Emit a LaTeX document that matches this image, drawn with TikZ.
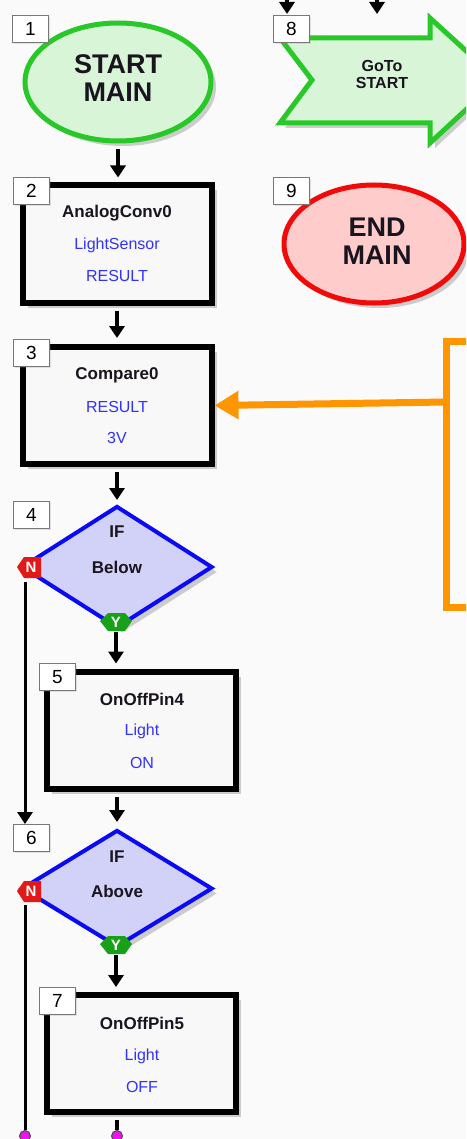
\documentclass[tikz,border=0pt]{standalone}
\usepackage{fontspec}
\setmainfont{Liberation Sans}
\usetikzlibrary{shapes.geometric,arrows.meta,shadows,calc}

\definecolor{bgcol}{RGB}{250,250,250}
\definecolor{boxfill}{RGB}{248,248,248}
\definecolor{termgreen}{RGB}{40,200,40}
\definecolor{termgreenfill}{RGB}{216,245,216}
\definecolor{termred}{RGB}{240,10,10}
\definecolor{termredfill}{RGB}{255,204,204}
\definecolor{decblue}{RGB}{10,10,245}
\definecolor{decfill}{RGB}{210,210,248}
\definecolor{valblue}{RGB}{50,50,250}
\definecolor{titlecol}{RGB}{25,20,30}
\definecolor{labgray}{RGB}{120,120,120}
\definecolor{nored}{RGB}{225,25,25}
\definecolor{yesgreen}{RGB}{25,160,25}
\definecolor{pinmag}{RGB}{235,20,235}
\definecolor{noteorange}{RGB}{255,150,0}

\begin{document}
\begin{tikzpicture}[x=1pt,y=-1pt,
  softshadow/.style={drop shadow={shadow xshift=5pt,shadow yshift=-5pt,fill=black,opacity=0.18}},
  terminal/.style={ellipse,line width=5pt,minimum width=186pt,minimum height=118pt,inner sep=0pt,softshadow},
  procbox/.style={rectangle,draw=black,line width=6pt,fill=boxfill,minimum width=189pt,minimum height=117pt,inner sep=0pt,softshadow},
  decision/.style={diamond,draw=decblue,line width=4pt,fill=decfill,inner sep=0pt,minimum width=191pt,softshadow},
  numlabel/.style={rectangle,draw=labgray,line width=1pt,fill=white,minimum width=36pt,minimum height=27pt,inner sep=0pt,anchor=north west,font=\fontsize{19}{19}\selectfont,drop shadow={shadow xshift=1.5pt,shadow yshift=-1.5pt,opacity=0.2}},
  bigtext/.style={align=center,font=\fontsize{27}{28}\selectfont\bfseries,text=titlecol},
  title/.style={font=\fontsize{17}{20}\selectfont\bfseries,text=titlecol},
  value/.style={font=\fontsize{16}{19}\selectfont,text=valblue},
  badgetext/.style={font=\fontsize{15}{15}\selectfont\bfseries,text=white,inner sep=0pt},
  flow/.style={draw=black,line width=4pt,-{Triangle[width=15pt,length=12pt]}},
  wire/.style={draw=black,line width=3pt},
  pin/.style={circle,draw=black!70,line width=1pt,fill=pinmag,minimum size=11pt,inner sep=0pt},
  note/.style={draw=noteorange,line width=7pt}
]
\useasboundingbox (0,0) rectangle (466,1139);
\fill[bgcol] (0,0) rectangle (466,1139);
\clip (0,0) rectangle (466,1139);

% ---------- main column ----------
\node[terminal,draw=termgreen,fill=termgreenfill] (start) at (118,82) {};
\node[bigtext] (startt) at (118,78) {START\\MAIN};

\node[procbox] (b2) at (117,244) {};
\node[title] (b2a) at (117,213) {AnalogConv0};
\node[value] (b2b) at (117,245) {LightSensor};
\node[value] (b2c) at (117,276) {RESULT};

\node[procbox] (b3) at (117,405.5) {};
\node[title] (b3a) at (117,375) {Compare0};
\node[value] (b3b) at (117,407) {RESULT};
\node[value] (b3c) at (117,438) {3V};

\node[decision,minimum height=122pt] (d4) at (117,567) {};
\node[title] (d4a) at (117,532) {IF};
\node[title] (d4b) at (117,567) {Below};

\node[procbox] (b5) at (141.5,730) {};
\node[title] (b5a) at (142,699) {OnOffPin4};
\node[value] (b5b) at (142,731) {Light};
\node[value] (b5c) at (142,763) {ON};

\node[decision,minimum height=117pt] (d6) at (117,888.5) {};
\node[title] (d6a) at (117,857) {IF};
\node[title] (d6b) at (117,891) {Above};

\node[procbox] (b7) at (141.5,1053.5) {};
\node[title] (b7a) at (142,1023) {OnOffPin5};
\node[value] (b7b) at (142,1056) {Light};
\node[value] (b7c) at (142,1087) {OFF};

% ---------- right column ----------
\fill[black,opacity=0.18,xshift=5pt,yshift=-5pt]
  (280,38) -- (430,38) -- (430,18) -- (498,80) -- (430,143) -- (430,123) -- (280,123) -- (312,80) -- cycle;
\draw[termgreen,fill=termgreenfill,line width=5pt,line join=miter]
  (280,38) -- (430,38) -- (430,18) -- (498,80) -- (430,143) -- (430,123) -- (280,123) -- (312,80) -- cycle;
\node[align=center,font=\fontsize{16}{17}\selectfont\bfseries,text=titlecol] (gotot) at (382,74) {GoTo\\START};

\node[terminal,draw=termred,fill=termredfill,minimum width=180pt] (endm) at (374,244) {};
\node[bigtext] (endt) at (377,241) {END\\MAIN};

% ---------- decision badges ----------
\fill[nored] (17,567) -- (24,557) -- (41,557) -- (41,578) -- (24,578) -- cycle;
\node[badgetext] (n4) at (31,567.5) {N};
\fill[yesgreen] (100,621) -- (108,613) -- (125,613) -- (132,621) -- (125,631) -- (108,631) -- cycle;
\node[badgetext] (y4) at (116,622.5) {Y};

\fill[nored] (17,891) -- (24,881) -- (41,881) -- (41,902) -- (24,902) -- cycle;
\node[badgetext] (n6) at (31,891.5) {N};
\fill[yesgreen] (100,944) -- (108,936) -- (125,936) -- (132,944) -- (125,954) -- (108,954) -- cycle;
\node[badgetext] (y6) at (116,945.5) {Y};

% ---------- step numbers ----------
\node[numlabel] (l1) at (12,15) {1};
\node[numlabel] (l2) at (13,177) {2};
\node[numlabel] (l3) at (13,339) {3};
\node[numlabel] (l4) at (13,501) {4};
\node[numlabel] (l5) at (39,663) {5};
\node[numlabel] (l6) at (13,824) {6};
\node[numlabel] (l7) at (39,987) {7};
\node[numlabel] (l8) at (273,15) {8};
\node[numlabel] (l9) at (273,177) {9};

% ---------- flow connectors ----------
\draw[flow,shorten <=6pt,shorten >=5pt] (start.south) -- (start.south |- b2.north);
\draw[flow,shorten <=5pt,shorten >=6pt] (b2.south) -- (b3.north);
\draw[flow,shorten <=5pt,shorten >=4pt] (b3.south) -- (d4.north);
\draw[flow,shorten <=4pt,shorten >=5pt] (y4.south) -- (y4.south |- b5.north);
\draw[flow,shorten <=5pt,shorten >=6pt] (d6.north |- b5.south) -- (d6.north);
\draw[flow,shorten <=4pt,shorten >=5pt] (y6.south) -- (y6.south |- b7.north);

\coordinate (n4out) at (25,582);
\draw[flow,line width=3pt] (n4out) -- (n4out |- l6.north);

\coordinate (n6out) at (25,905);
\node[pin] (p1) at (25,1136) {};
\node[pin] (p2) at (117,1136) {};
\draw[wire] (n6out) -- (p1.north);
\draw[wire,line width=4pt,shorten <=5pt] (p2.north |- b7.south) -- (p2.north);

% incoming flow at the top of the right column
\coordinate (in8) at (287,-12);
\coordinate (in8b) at (377,-12);
\draw[flow] (in8) -- (287,14);
\draw[flow] (in8b) -- (377,14);

% ---------- comment bracket ----------
\coordinate (brk) at (446,402);
\draw[note,line join=miter] (472,341) -- (446,341) -- (446,607) -- (472,607);
\draw[note,-{Triangle[width=27pt,length=24pt]}] (brk) -- (b3.east);
\end{tikzpicture}
\end{document}
